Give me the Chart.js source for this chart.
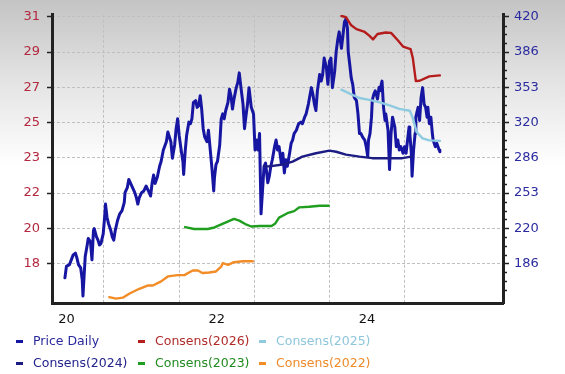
<!DOCTYPE html>
<html><head><meta charset="utf-8">
<script src="https://cdn.jsdelivr.net/npm/chart.js@4.4.0/dist/chart.umd.min.js"></script>
<style>
html,body{margin:0;padding:0;}
body{width:565px;height:374px;overflow:hidden;position:relative;
 background:linear-gradient(to bottom,#c4c4c4 0px,#e3e3e3 80px,#ffffff 165px,#ffffff 374px);
 font-family:"DejaVu Sans",sans-serif;}
#c{position:absolute;left:0;top:0;}
.lg{position:absolute;font-size:12.5px;line-height:15px;white-space:nowrap;}
.mk{position:absolute;width:7px;height:3px;}
</style></head><body>
<canvas id="c" width="565" height="374"></canvas>
<div id="legend"></div>
<script>
// ---- data (x = year, e.g. 22.5 = mid 2022) ----
const xGridYears = [21, 22, 23, 24, 25];
const xLabelYears = [20.5, 22.5, 24.5];
const xLabels = ['20', '22', '24'];
const leftTickLabels = ['18', '20', '22', '23', '25', '27', '29', '31'];   // consensus EPS axis
const rightTickLabels = ['186', '220', '253', '286', '320', '353', '386', '420']; // price axis

const seriesNames = ['Price Daily', 'Consens(2026)', 'Consens(2025)', 'Consens(2024)', 'Consens(2023)', 'Consens(2022)'];
const seriesColors = ['#1616a2', '#b51c1c', '#8fcbe0', '#1c1c84', '#1f9e1f', '#f28c26'];
const legendTextColors = ['#2a2a9c', '#b02a2a', '#8ec6da', '#23238c', '#218a21', '#ee8a2a'];

const priceDaily = [
[20.48,172.4],[20.50,183.3],[20.54,184.9],[20.59,194.2],[20.62,195.8],[20.64,191.1],[20.66,184.9],[20.69,181.8],[20.71,170.9],[20.72,155.3],
[20.73,167.8],[20.75,192.6],[20.78,205.1],[20.79,209.8],[20.82,206.6],[20.84,189.5],[20.86,217.5],[20.87,219.1],[20.90,211.3],[20.92,208.2],
[20.94,203.5],[20.96,205.1],[20.99,214.4],[21.01,231.5],[21.02,242.4],[21.04,229.9],[21.06,223.8],[21.09,217.5],[21.11,211.3],[21.13,208.2],
[21.15,217.5],[21.18,226.8],[21.21,233.1],[21.24,236.2],[21.27,243.9],[21.28,253.2],[21.31,257.9],[21.33,265.7],[21.35,262.6],[21.38,257.9],
[21.41,253.2],[21.43,248.6],[21.45,242.4],[21.47,248.6],[21.50,253.2],[21.53,254.8],[21.56,259.5],[21.59,255.0],[21.62,250.0],[21.64,262.0],
[21.66,270.0],[21.68,262.0],[21.71,268.0],[21.74,278.2],[21.76,282.8],[21.79,293.7],[21.83,301.5],[21.85,310.8],[21.87,306.1],[21.89,301.5],
[21.91,285.9],[21.94,298.4],[21.96,313.9],[21.98,323.2],[22.00,307.7],[22.03,292.1],[22.05,282.8],[22.06,270.4],[22.08,292.1],[22.10,307.7],
[22.13,320.1],[22.15,318.6],[22.17,323.2],[22.19,338.8],[22.22,340.4],[22.24,334.1],[22.26,335.7],[22.28,345.1],[22.30,332.5],[22.32,313.9],
[22.34,306.1],[22.37,301.5],[22.39,312.4],[22.40,304.6],[22.42,289.1],[22.44,273.5],[22.46,254.8],[22.47,267.2],[22.49,279.7],[22.51,282.8],
[22.54,298.4],[22.56,323.2],[22.58,327.9],[22.60,323.2],[22.62,331.1],[22.65,338.8],[22.67,351.2],[22.69,345.1],[22.71,332.5],[22.73,341.9],
[22.76,352.8],[22.78,357.5],[22.80,366.8],[22.82,354.4],[22.85,337.2],[22.87,313.9],[22.89,326.4],[22.91,337.2],[22.93,352.8],[22.96,334.1],
[22.99,327.9],[23.01,293.7],[23.03,303.1],[23.05,293.7],[23.07,309.2],[23.09,233.1],[23.13,278.2],[23.15,281.2],[23.18,262.6],[23.20,268.8],
[23.22,278.2],[23.24,284.4],[23.27,296.8],[23.29,303.1],[23.31,293.7],[23.33,296.8],[23.36,281.2],[23.38,290.6],[23.40,271.9],[23.42,284.4],
[23.44,278.2],[23.47,290.6],[23.49,299.9],[23.51,303.1],[23.53,309.2],[23.56,312.4],[23.59,318.6],[23.62,320.1],[23.64,318.6],[23.67,324.8],
[23.69,327.9],[23.72,337.2],[23.76,352.8],[23.78,346.5],[23.80,337.2],[23.82,331.1],[23.84,349.7],[23.87,365.2],[23.89,359.0],[23.91,365.2],
[23.93,380.8],[23.96,371.5],[23.98,355.9],[24.00,377.7],[24.02,380.8],[24.04,352.8],[24.07,368.4],[24.09,387.0],[24.11,397.9],[24.13,405.7],
[24.16,390.1],[24.18,402.5],[24.20,415.0],[24.22,418.1],[24.24,408.8],[24.25,387.0],[24.27,375.0],[24.29,362.1],[24.31,355.9],[24.33,343.5],
[24.36,340.4],[24.38,327.9],[24.40,309.2],[24.42,309.2],[24.44,306.1],[24.47,303.1],[24.49,296.8],[24.51,287.5],[24.52,303.1],[24.54,309.2],
[24.56,324.8],[24.57,340.4],[24.59,346.5],[24.61,349.7],[24.64,341.9],[24.66,352.8],[24.67,349.7],[24.70,359.0],[24.72,334.1],[24.74,321.7],
[24.75,327.9],[24.78,312.4],[24.80,275.1],[24.82,309.2],[24.84,324.8],[24.87,315.5],[24.89,296.8],[24.91,303.1],[24.93,293.7],[24.95,296.8],
[24.98,290.6],[25.00,296.8],[25.02,290.6],[25.04,303.1],[25.06,315.5],[25.07,309.2],[25.09,290.6],[25.10,268.8],[25.12,293.7],[25.14,309.2],
[25.15,324.8],[25.18,334.1],[25.20,321.7],[25.22,343.5],[25.24,352.8],[25.26,337.2],[25.28,334.1],[25.30,324.8],[25.31,334.1],[25.33,318.6],
[25.35,324.8],[25.37,309.2],[25.38,303.1],[25.41,296.8],[25.43,299.9],[25.46,293.7],[25.47,292.1]
];
const consens2026 = [[24.16,31.04],[24.22,30.98],[24.29,30.55],[24.36,30.35],[24.47,30.20],[24.53,30.01],[24.58,29.81],[24.64,30.09],[24.75,30.17],
[24.82,30.15],[24.91,29.76],[24.98,29.43],[25.08,29.30],[25.11,28.82],[25.15,27.61],[25.20,27.63],[25.33,27.86],[25.47,27.91]];
const consens2025 = [[24.16,27.16],[24.27,26.95],[24.40,26.72],[24.53,26.62],[24.67,26.49],[24.80,26.33],[24.93,26.15],[25.07,26.05],[25.11,25.66],
[25.16,24.93],[25.24,24.59],[25.33,24.49],[25.47,24.46]];
const consens2024 = [[23.13,23.12],[23.20,23.12],[23.38,23.22],[23.51,23.37],[23.64,23.63],[23.82,23.81],[24.00,23.95],[24.09,23.89],[24.22,23.74],
[24.40,23.63],[24.57,23.55],[24.97,23.55],[25.09,23.63]];
const consens2023 = [[22.08,19.92],[22.20,19.82],[22.38,19.82],[22.47,19.90],[22.60,20.13],[22.73,20.35],[22.80,20.26],[22.88,20.08],[22.96,19.95],
[23.07,19.98],[23.23,19.98],[23.28,20.11],[23.33,20.42],[23.44,20.65],[23.53,20.76],[23.60,20.96],[23.73,20.99],[23.87,21.04],[23.99,21.04]];
const consens2022 = [[21.07,16.23],[21.16,16.15],[21.25,16.20],[21.34,16.42],[21.47,16.67],[21.58,16.84],[21.65,16.84],[21.76,17.06],[21.85,17.32],
[21.98,17.39],[22.07,17.39],[22.18,17.63],[22.25,17.63],[22.31,17.50],[22.40,17.53],[22.49,17.58],[22.56,17.84],[22.58,18.02],[22.65,17.93],
[22.73,18.07],[22.85,18.12],[22.98,18.12]];

// ---- build ----
const seriesData = [priceDaily, consens2026, consens2025, consens2024, consens2023, consens2022];
const seriesAxis = ['y', 'yL', 'yL', 'yL', 'yL', 'yL'];
const toPts = a => a.map(p => ({x: p[0], y: p[1]}));

const rLo = +rightTickLabels[0], rHi = +rightTickLabels[rightTickLabels.length - 1];
const lLo = +leftTickLabels[0], lHi = +leftTickLabels[leftTickLabels.length - 1];
const nSteps = rightTickLabels.length - 1;
const rStep = (rHi - rLo) / nSteps, lStep = (lHi - lLo) / nSteps;
const pxStep = 250 / nSteps;
const rMax = rHi + rStep * 2 / pxStep, rMin = rLo - rStep * 40 / pxStep;
const lMax = lHi + lStep * 2 / pxStep, lMin = lLo - lStep * 40 / pxStep;

const datasets = seriesData.map((d, i) => ({
  label: seriesNames[i], data: toPts(d), yAxisID: seriesAxis[i],
  borderColor: seriesColors[i], backgroundColor: seriesColors[i],
  borderWidth: i === 0 ? 3 : 2.4, pointRadius: 0, tension: 0, fill: false,
  order: i === 0 ? 10 : 1, borderJoinStyle: 'round', borderCapStyle: 'round'
}));

const GRID = '#c0c0c0';
const minorTicks = {
  id: 'minorTicks',
  afterDraw(chart) {
    const s = chart.scales.y, ctx = chart.ctx;
    const step = rStep / 4;
    ctx.save(); ctx.strokeStyle = '#222'; ctx.lineWidth = 1.5;
    for (let k = -3; k < nSteps * 4; k++) {
      if (k % 4 === 0) continue;
      const v = rLo + k * step;
      if (v < s.min || v > s.max) continue;
      const y = Math.round(s.getPixelForValue(v)) + 0.5;
      ctx.beginPath(); ctx.moveTo(s.left, y); ctx.lineTo(s.left + 4, y); ctx.stroke();
    }
    ctx.restore();
  }
};

new Chart(document.getElementById('c'), {
  type: 'line',
  data: {datasets},
  plugins: [minorTicks],
  options: {
    responsive: false, animation: false, devicePixelRatio: 1,
    layout: {padding: {top: 11, left: 0, right: 0, bottom: 0}},
    plugins: {legend: {display: false}, tooltip: {enabled: false}},
    scales: {
      x: {
        type: 'linear', min: 20.308, max: 26.31,
        afterBuildTicks: s => { s.ticks = xLabelYears.concat(xGridYears).sort((a, b) => a - b).map(v => ({value: v})); },
        afterFit: s => { s.height = 71; },
        grid: {color: c => (c.tick && Number.isInteger(c.tick.value)) ? GRID : 'rgba(0,0,0,0)', lineWidth: 1, drawTicks: false},
        border: {display: true, color: '#222', width: 3, dash: [3, 2]},
        ticks: {padding: 9, color: '#111', font: {family: 'DejaVu Sans', size: 13}, maxRotation: 0, autoSkip: false,
          callback: v => { const i = xLabelYears.indexOf(v); return i >= 0 ? xLabels[i] : ''; }}
      },
      yL: {
        type: 'linear', position: 'left', min: lMin, max: lMax,
        afterBuildTicks: s => { s.ticks = leftTickLabels.map((t, i) => ({value: lLo + i * lStep})); },
        afterFit: s => { s.width = 52; },
        grid: {drawOnChartArea: false, drawTicks: true, tickLength: 5, tickColor: '#222', tickWidth: 1.5},
        border: {display: true, color: '#222', width: 3},
        ticks: {padding: 7, color: '#b2283f', font: {family: 'DejaVu Sans', size: 13}, autoSkip: false,
          callback: (v, i) => leftTickLabels[i]}
      },
      y: {
        type: 'linear', position: 'right', min: rMin, max: rMax,
        afterBuildTicks: s => { s.ticks = rightTickLabels.map((t, i) => ({value: rLo + i * rStep})); },
        afterFit: s => { s.width = 62; },
        grid: {drawOnChartArea: true, color: GRID, lineWidth: 1, drawTicks: true, tickLength: 6, tickColor: '#222', tickWidth: 1.5},
        border: {display: true, color: '#222', width: 3, dash: [3, 2]},
        ticks: {padding: 5, color: '#2b2ba0', font: {family: 'DejaVu Sans', size: 13}, autoSkip: false,
          callback: (v, i) => rightTickLabels[i]}
      }
    }
  }
});

// legend (3 columns x 2 rows)
const legendOrder = [0, 1, 2, 3, 4, 5];
const colX = [16, 138, 259], rowY = [341, 363];
const lg = document.getElementById('legend');
legendOrder.forEach((si, k) => {
  const col = k % 3, row = Math.floor(k / 3);
  const m = document.createElement('div');
  m.className = 'mk'; m.style.left = colX[col] + 'px'; m.style.top = (rowY[row] - 1.5) + 'px';
  m.style.background = seriesColors[si];
  lg.appendChild(m);
  const t = document.createElement('div');
  t.className = 'lg'; t.textContent = seriesNames[si];
  t.style.left = (colX[col] + 17) + 'px'; t.style.top = (rowY[row] - 8) + 'px';
  t.style.color = legendTextColors[si];
  lg.appendChild(t);
});
</script></body></html>
